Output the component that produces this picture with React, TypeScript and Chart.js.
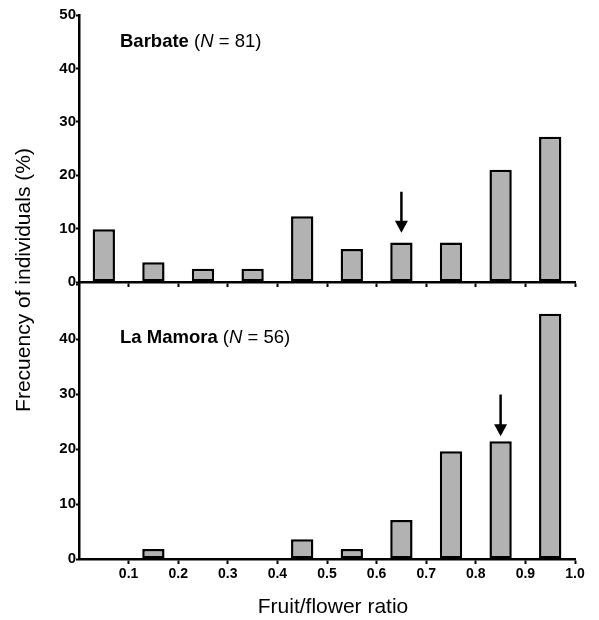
import React, { useEffect, useRef } from 'react';
import { Chart, registerables } from 'chart.js';

Chart.register(...registerables);

// ---- data ----
const binCenters = [0.05, 0.15, 0.25, 0.35, 0.45, 0.55, 0.65, 0.75, 0.85, 0.95];
const barbateValues = [9.9, 3.7, 2.5, 2.5, 12.3, 6.2, 7.4, 7.4, 21.0, 27.2];
const mamoraValues = [0, 1.8, 0, 0, 3.6, 1.8, 7.1, 19.6, 21.4, 44.6];
const xTickValues = [0.1, 0.2, 0.3, 0.4, 0.5, 0.6, 0.7, 0.8, 0.9, 1.0];
const yTickValues = [0, 10, 20, 30, 40, 50];
const panelNames = ['Barbate', 'La Mamora'];
const panelN = [81, 56];
const arrowX = [0.65, 0.85];
const arrowFrom = [16.9, 29.9];
const arrowTo = [9.2, 22.3];
const yAxisTitle = 'Frecuency of individuals (%)';
const xAxisTitle = 'Fruit/flower ratio';

const FONT = '"Liberation Sans", Arial, Helvetica, sans-serif';
const W = 599;
const H = 620;
const TOP_H = 300;

type PanelSpec = {
  index: number;
  values: number[];
  canvasH: number;
  areaTop: number;
  areaBottom: number;
  showXLabels: boolean;
  hideTopY: boolean;
  labelY: number;
};

function makeChart(canvas: HTMLCanvasElement, spec: PanelSpec) {
  const panelPlugin = {
    id: 'panelDecor' + spec.index,
    afterDatasetsDraw(chart: any) {
      const ctx = chart.ctx as CanvasRenderingContext2D;
      const xs = chart.scales.x;
      const ys = chart.scales.y;
      // arrow
      const ax = xs.getPixelForValue(arrowX[spec.index]);
      const y0 = ys.getPixelForValue(arrowFrom[spec.index]);
      const y1 = ys.getPixelForValue(arrowTo[spec.index]);
      const head = 12;
      ctx.save();
      ctx.strokeStyle = '#000';
      ctx.fillStyle = '#000';
      ctx.lineWidth = 2.5;
      ctx.beginPath();
      ctx.moveTo(ax, y0);
      ctx.lineTo(ax, y1 - head + 1);
      ctx.stroke();
      ctx.beginPath();
      ctx.moveTo(ax - 6.5, y1 - head);
      ctx.lineTo(ax + 6.5, y1 - head);
      ctx.lineTo(ax, y1);
      ctx.closePath();
      ctx.fill();
      // panel label
      const size = 18.5;
      const parts: [string, string][] = [
        [panelNames[spec.index], 'bold'],
        [' (', 'normal'],
        ['N', 'italic'],
        [' = ' + panelN[spec.index] + ')', 'normal'],
      ];
      let x = chart.chartArea.left + 41;
      ctx.textBaseline = 'alphabetic';
      ctx.textAlign = 'left';
      for (const [t, st] of parts) {
        ctx.font = `${st} ${size}px ${FONT}`;
        ctx.fillText(t, x, spec.labelY);
        x += ctx.measureText(t).width;
      }
      // global titles on the lower (full-size) canvas
      if (spec.showXLabels) {
        ctx.font = `normal 21px ${FONT}`;
        ctx.textAlign = 'center';
        ctx.fillText(xAxisTitle, 333, 613);
        ctx.translate(30, 280);
        ctx.rotate(-Math.PI / 2);
        ctx.fillText(yAxisTitle, 0, 0);
      }
      ctx.restore();
    },
  };

  return new Chart(canvas, {
    type: 'bar',
    data: {
      datasets: [
        {
          data: binCenters.map((x, i) => ({ x, y: spec.values[i] })),
          backgroundColor: '#b2b2b2',
          borderColor: '#000',
          borderWidth: 2.5,
          borderSkipped: false,
          barPercentage: 0.45,
          categoryPercentage: 1,
        } as any,
      ],
    },
    options: {
      responsive: false,
      animation: false,
      events: [],
      layout: { padding: { top: spec.areaTop, right: W - 575, left: 0, bottom: 0 } },
      plugins: { legend: { display: false }, tooltip: { enabled: false }, title: { display: false } },
      scales: {
        x: {
          type: 'linear',
          min: 0,
          max: 1,
          offset: false,
          afterBuildTicks: (s: any) => {
            s.ticks = xTickValues.map((v) => ({ value: v }));
          },
          afterFit: (s: any) => {
            s.height = spec.canvasH - spec.areaBottom;
            s.paddingLeft = 0;
            s.paddingRight = 0;
          },
          ticks: {
            display: spec.showXLabels,
            autoSkip: false,
            maxRotation: 0,
            padding: 2,
            color: '#000',
            font: { family: FONT, size: 14, weight: 'bold' },
            callback: (v: any) => Number(v).toFixed(1),
          },
          grid: {
            display: true,
            offset: false,
            drawOnChartArea: false,
            drawTicks: true,
            tickLength: 5,
            tickColor: '#000',
            tickWidth: 2,
          },
          border: { display: true, color: '#000', width: 2.5 },
        },
        y: {
          type: 'linear',
          min: 0,
          max: 50,
          afterBuildTicks: (s: any) => {
            s.ticks = yTickValues.map((v) => ({ value: v }));
          },
          afterFit: (s: any) => {
            s.width = 79;
            s.paddingTop = 0;
            s.paddingBottom = 0;
          },
          ticks: {
            padding: 0,
            color: '#000',
            font: { family: FONT, size: 15, weight: 'bold' },
            callback: (v: any) => (spec.hideTopY && v === 50 ? '' : String(v)),
          },
          grid: {
            display: true,
            offset: false,
            drawOnChartArea: false,
            drawTicks: true,
            tickLength: 3,
            tickColor: '#000',
            tickWidth: 2,
          },
          border: { display: true, color: '#000', width: 2.5 },
        },
      },
    } as any,
    plugins: [panelPlugin],
  });
}

export default function App() {
  const topRef = useRef<HTMLCanvasElement>(null);
  const botRef = useRef<HTMLCanvasElement>(null);

  useEffect(() => {
    const bottom = makeChart(botRef.current!, {
      index: 1,
      values: mamoraValues,
      canvasH: H,
      areaTop: 284,
      areaBottom: 559,
      showXLabels: true,
      hideTopY: true,
      labelY: 343,
    });
    const top = makeChart(topRef.current!, {
      index: 0,
      values: barbateValues,
      canvasH: TOP_H,
      areaTop: 15,
      areaBottom: 282,
      showXLabels: false,
      hideTopY: false,
      labelY: 47,
    });
    return () => {
      top.destroy();
      bottom.destroy();
    };
  }, []);

  return (
    <div style={{ position: 'absolute', left: 0, top: 0, width: W, height: H, background: '#fff' }}>
      <canvas
        ref={botRef}
        width={W}
        height={H}
        style={{ position: 'absolute', left: 0, top: 0, width: W, height: H }}
      />
      <canvas
        ref={topRef}
        width={W}
        height={TOP_H}
        style={{ position: 'absolute', left: 0, top: 0, width: W, height: TOP_H }}
      />
    </div>
  );
}
